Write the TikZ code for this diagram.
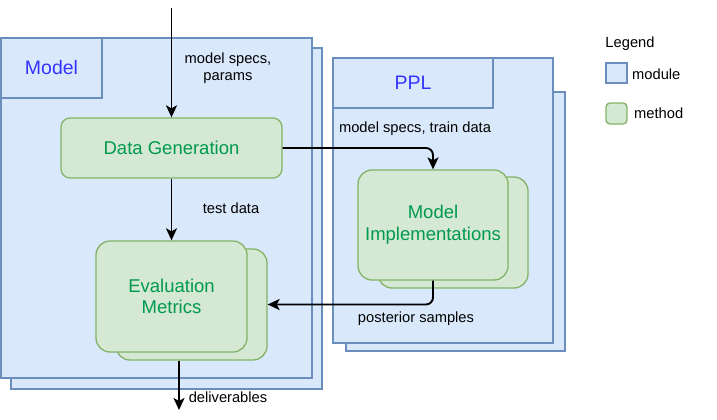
\documentclass[tikz,border=0pt]{standalone}
\usepackage{fontspec}
\setmainfont{Liberation Sans}
\usetikzlibrary{arrows.meta}
\definecolor{modfill}{HTML}{DAE8FC}
\definecolor{moddraw}{HTML}{6C8EBF}
\definecolor{metfill}{HTML}{D5E8D4}
\definecolor{metdraw}{HTML}{82B366}
\definecolor{modtext}{HTML}{3333FF}
\definecolor{mettext}{HTML}{00994D}

\begin{document}
\begin{tikzpicture}
  [x=1pt,y=-1pt,>={Stealth[length=12pt,width=11pt,inset=3pt]},
   module/.style={draw=moddraw,fill=modfill,line width=1.3pt,inner sep=0pt},
   method/.style={draw=metdraw,fill=metfill,line width=1.3pt,rounded corners=14pt,inner sep=0pt,
     text=mettext,align=center,font=\fontsize{18.5}{21.7}\selectfont},
   modtitle/.style={module,text=modtext,font=\fontsize{19.5}{23}\selectfont},
   link/.style={->,line width=1.9pt,rounded corners=7pt},
   lbl/.style={inner sep=0pt,align=center,font=\fontsize{14.7}{17.3}\selectfont}]
  \useasboundingbox (0,0) rectangle (717,420);

  % Model module
  \node[module,minimum width=311pt,minimum height=341pt] (modelb) at (166.5,218.5) {};
  \node[module,minimum width=311pt,minimum height=340pt] (model) at (156.5,208) {};
  \node[modtitle,minimum width=101pt,minimum height=60pt] (modelt) at (51.5,68) {Model};

  % PPL module
  \node[module,minimum width=219pt,minimum height=259pt] (pplb) at (455.5,221.5) {};
  \node[module,minimum width=220pt,minimum height=285pt] (ppl) at (443,200.5) {};
  \node[modtitle,minimum width=160pt,minimum height=50pt] (pplt) at (413,83) {PPL};

  % methods
  \node[method,rounded corners=9pt,minimum width=221pt,minimum height=60pt] (dg) at (171.5,148) {Data Generation};
  \node[method,minimum width=151pt,minimum height=111pt] (evb) at (191.5,304.5) {};
  \node[method,minimum width=151pt,minimum height=111pt] (ev) at (171.5,296.5) {Evaluation\\Metrics};
  \node[method,minimum width=150pt,minimum height=111pt] (mib) at (453,232.5) {};
  \node[method,minimum width=150pt,minimum height=110pt] (mi) at (433,225) {Model\\Implementations};

  % connectors
  \coordinate (input) at (171.5,8);
  \coordinate (deliv) at (179,410);
  \draw[link] (input) -- (dg.north);
  \draw[link] (dg.south) -- (ev.north);
  \draw[link] (evb.south -| deliv) -- (deliv);
  \draw[link] (dg.east) -| (mi.north);
  \draw[link] (mi.south) |- (evb.east);

  \node[lbl] (specs) at (228,68) {model specs,\\params};
  \node[lbl] (test) at (231,208) {test data};
  \node[lbl] (train) at (415,129) {model specs, train data};
  \node[lbl] (post) at (416,319) {posterior samples};
  \node[lbl] (out) at (228,397) {deliverables};

  % legend
  \node[lbl] (leg) at (630,44) {Legend};
  \node[module,minimum width=21pt,minimum height=20pt] (legmod) at (616.5,73) {};
  \node[lbl,anchor=west] (legmodt) at (632,74) {module};
  \node[method,rounded corners=4pt,minimum width=21pt,minimum height=21pt] (legmet) at (616.5,113.5) {};
  \node[lbl,anchor=west] (legmett) at (634,113) {method};
\end{tikzpicture}
\end{document}
